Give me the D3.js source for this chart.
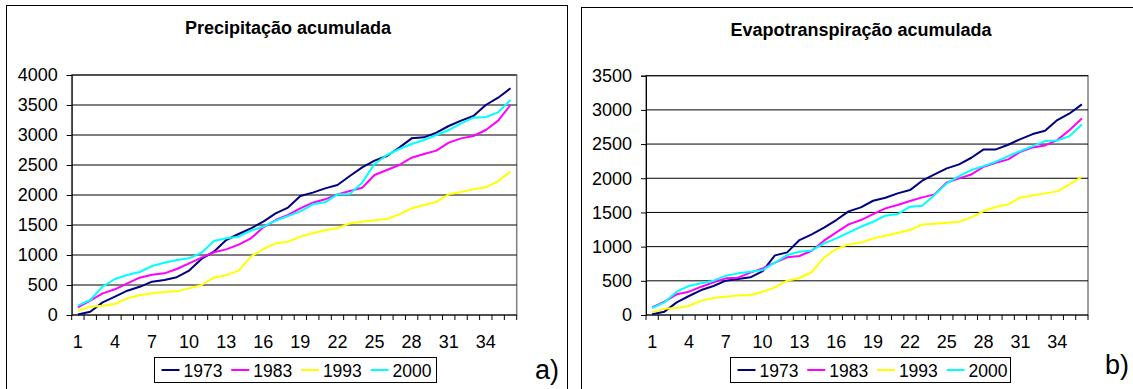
<!DOCTYPE html>
<html><head><meta charset="utf-8">
<script src="https://cdn.jsdelivr.net/npm/d3@7"></script>
<style>body{margin:0;background:#fff}svg{display:block;font-family:"Liberation Sans",Arial,Helvetica,sans-serif}</style>
</head><body><svg id="c" width="1133" height="389"></svg>
<script>
const categories = [1,2,3,4,5,6,7,8,9,10,11,12,13,14,15,16,17,18,19,20,21,22,23,24,25,26,27,28,29,30,31,32,33,34,35,36];
const xTickLabels = [1,4,7,10,13,16,19,22,25,28,31,34];
const seriesNames = ["1973","1983","1993","2000"];
const seriesColors = ["#000080","#ff00ff","#ffff00","#00ffff"];

const precipTicks = [0,500,1000,1500,2000,2500,3000,3500,4000];
const precip1973 = [10,55,210,305,405,470,555,585,630,740,935,1055,1250,1350,1445,1555,1695,1790,1983,2039,2111,2167,2317,2461,2572,2650,2789,2944,2961,3039,3150,3239,3317,3500,3622,3778];
const precip1983 = [128,239,361,428,528,622,672,694,767,861,956,1045,1094,1172,1278,1461,1583,1667,1778,1872,1928,2011,2067,2122,2333,2417,2500,2622,2683,2739,2872,2944,2983,3083,3239,3500];
const precip1993 = [72,139,156,183,278,328,361,383,394,444,500,622,661,739,972,1100,1194,1222,1306,1361,1411,1450,1528,1556,1578,1600,1678,1778,1833,1883,2011,2050,2094,2128,2233,2389];
const precip2000 = [156,250,472,600,667,717,817,872,917,944,1039,1233,1278,1306,1406,1472,1572,1650,1728,1844,1878,2011,2017,2206,2517,2667,2767,2850,2917,3000,3083,3194,3289,3300,3378,3583];

const evapTicks = [0,500,1000,1500,2000,2500,3000,3500];
const evap1973 = [10,49,185,278,365,424,502,526,551,643,872,916,1096,1179,1277,1389,1516,1574,1671,1715,1779,1827,1964,2056,2144,2203,2300,2422,2422,2490,2573,2646,2695,2851,2948,3080];
const evap1983 = [112,195,302,341,414,478,536,546,619,682,765,843,863,940,1087,1209,1325,1389,1476,1559,1608,1667,1720,1764,1939,1998,2056,2168,2227,2276,2388,2451,2480,2558,2705,2875];
const evap1993 = [39,93,102,132,210,249,268,287,292,341,404,502,541,629,838,965,1033,1057,1121,1160,1204,1243,1325,1335,1350,1364,1428,1520,1579,1618,1720,1749,1779,1808,1910,2022];
const evap2000 = [102,185,341,424,463,502,575,609,634,658,765,877,926,945,1048,1121,1204,1291,1364,1452,1476,1584,1598,1754,1925,2032,2120,2178,2242,2324,2398,2471,2544,2553,2617,2787];

const svg = d3.select("#c");

function drawChart(cfg) {
  const g = svg.append("g");
  // outer box
  g.append("rect").attr("x", cfg.box[0]).attr("y", cfg.box[1]).attr("width", cfg.box[2]).attr("height", cfg.box[3])
    .attr("fill", "none").attr("stroke", "#000").attr("stroke-width", 1);
  // title
  g.append("text").attr("x", cfg.titleX).attr("y", cfg.titleY).attr("text-anchor", "middle")
    .attr("font-weight", "bold").attr("font-size", 18).text(cfg.title);

  const x = d3.scaleBand().domain(categories).range([cfg.plot[0], cfg.plot[1]]).paddingInner(0).paddingOuter(0);
  const y = d3.scaleLinear().domain([0, cfg.ticks[cfg.ticks.length - 1]]).range([cfg.plot[3], cfg.plot[2]]);

  // plot border
  g.append("rect").attr("x", cfg.plot[0]).attr("y", cfg.plot[2]).attr("width", cfg.plot[1] - cfg.plot[0])
    .attr("height", cfg.plot[3] - cfg.plot[2]).attr("fill", "none").attr("stroke", "#808080").attr("stroke-width", 1.5);

  // gridlines
  g.append("g").selectAll("line").data(cfg.ticks.slice(1)).join("line")
    .attr("x1", cfg.plot[0]).attr("x2", cfg.plot[1]).attr("y1", d => y(d)).attr("y2", d => y(d))
    .attr("stroke", "#000").attr("stroke-width", 1);

  // y axis
  const ya = g.append("g").attr("transform", `translate(${cfg.plot[0]},0)`)
    .call(d3.axisLeft(y).tickValues(cfg.ticks).tickSize(5).tickPadding(9).tickFormat(d => d));
  ya.select(".domain").attr("stroke", "#000");
  ya.selectAll(".tick line").attr("stroke", "#000");
  ya.selectAll("text").attr("font-size", 18).attr("font-family", null).attr("fill", "#000");
  ya.attr("font-family", null);

  // x axis: ticks at category boundaries
  const xa = g.append("g").attr("transform", `translate(0,${cfg.plot[3]})`);
  xa.append("line").attr("x1", cfg.plot[0]).attr("x2", cfg.plot[1]).attr("stroke", "#000");
  const bounds = categories.map(c => x(c)).concat([x(categories[categories.length - 1]) + x.bandwidth()]);
  xa.selectAll("line.t").data(bounds).join("line").attr("class", "t")
    .attr("x1", d => d).attr("x2", d => d).attr("y1", 0).attr("y2", 5).attr("stroke", "#000");
  xa.selectAll("text").data(xTickLabels).join("text")
    .attr("x", d => x(d) + x.bandwidth() / 2).attr("y", 33).attr("text-anchor", "middle")
    .attr("font-size", 18).text(d => d);

  // lines
  const line = d3.line().x((d, i) => x(categories[i]) + x.bandwidth() / 2).y(d => y(d));
  cfg.series.forEach((s, k) => {
    g.append("path").datum(s).attr("d", line).attr("fill", "none")
      .attr("stroke", seriesColors[k]).attr("stroke-width", 2).attr("stroke-linejoin", "round");
  });

  // legend
  const lg = g.append("g").attr("transform", `translate(${cfg.legend[0]},${cfg.legend[1]})`);
  lg.append("rect").attr("x", 0).attr("y", 0).attr("width", cfg.legend[2]).attr("height", 25)
    .attr("fill", "#fff").attr("stroke", "#000").attr("stroke-width", 1);
  seriesNames.forEach((n, k) => {
    const ox = 7 + k * 69.7;
    lg.append("line").attr("x1", ox).attr("x2", ox + 18).attr("y1", 12.5).attr("y2", 12.5)
      .attr("stroke", seriesColors[k]).attr("stroke-width", 2);
    lg.append("text").attr("x", ox + 22).attr("y", 19).attr("font-size", 17.5).text(n);
  });

  // letter
  g.append("text").attr("x", cfg.letter[0]).attr("y", cfg.letter[1]).attr("font-size", 27).text(cfg.letter[2]);
}

drawChart({
  box: [6.5, 5.5, 561, 400],
  title: "Precipitação acumulada", titleX: 288, titleY: 34,
  plot: [71.7, 516.7, 75, 315],
  ticks: precipTicks,
  series: [precip1973, precip1983, precip1993, precip2000],
  legend: [154.5, 357.5, 282],
  letter: [535, 379, "a)"]
});

drawChart({
  box: [581.5, 7.5, 600, 400],
  title: "Evapotranspiração acumulada", titleX: 861, titleY: 36,
  plot: [646, 1088, 75.7, 315],
  ticks: evapTicks,
  series: [evap1973, evap1983, evap1993, evap2000],
  legend: [730.5, 357.5, 280],
  letter: [1105, 374, "b)"]
});
</script></body></html>
